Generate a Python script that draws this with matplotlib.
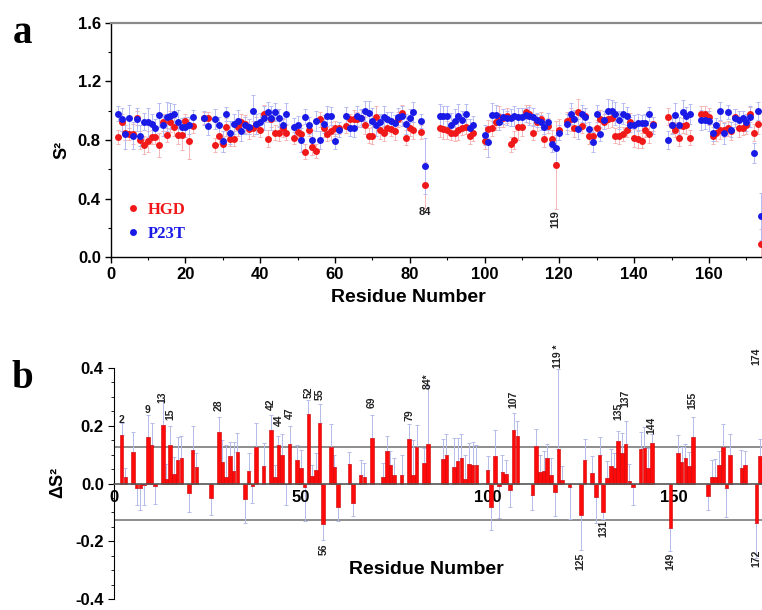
import matplotlib
matplotlib.use("Agg")
import matplotlib.pyplot as plt
from matplotlib.ticker import MultipleLocator

plt.rcParams['font.family'] = ['Liberation Sans', 'DejaVu Sans']

# ---------------- Panel a data ----------------
res_a = [2, 3, 4, 5, 6, 7, 8, 9, 10, 11,
         12, 13, 14, 15, 16, 17, 18, 19, 20, 21,
         22, 25, 26, 28, 29, 30, 31, 32, 33, 34,
         35, 36, 37, 38, 39, 40, 41, 42, 43, 44,
         45, 46, 47, 49, 50, 51, 52, 53, 54, 55,
         56, 57, 58, 59, 60, 61, 63, 64, 65, 66,
         67, 68, 69, 70, 71, 72, 73, 74, 75, 76,
         77, 78, 79, 80, 81, 83, 84, 88, 89, 90,
         91, 92, 93, 94, 95, 96, 97, 100, 101, 102,
         103, 104, 105, 106, 107, 108, 109, 110, 111, 112,
         113, 114, 115, 116, 117, 118, 119, 120, 122, 123,
         124, 125, 126, 127, 128, 129, 130, 131, 132, 133,
         134, 135, 136, 137, 138, 139, 140, 141, 142, 143,
         144, 145, 149, 150, 151, 152, 153, 154, 155, 158,
         159, 160, 161, 162, 163, 164, 165, 166, 167, 168,
         169, 170, 171, 172, 173, 174]

hgd = [.82, .92, .85, .84, .84, .95, .80, .765, .79, .82,
       .82, .765, .92, .835, .925, .89, .835, .835, .93, .79,
       .897, .95, .95, .765, .83, .77, .887, .81, .81, .89,
       .925, .91, .875, .88, .90, .87, .98, .81, .94, .85,
       .845, .88, .85, .815, .855, .84, .72, .87, .755, .725,
       .94, .88, .84, .86, .88, .88, .897, .94, .943, .94,
       .952, .90, .83, .83, .96, .87, .845, .885, .876, .86,
       .94, .982, .815, .88, .865, .855, .493, .88, .874, .87,
       .85, .85, .87, .885, .89, .83, .845, .79, .874, .88,
       .925, .96, .95, .965, .77, .80, .887, .89, .99, .977,
       .85, .92, .94, .81, .897, .806, .63, .87, .93, .94,
       .88, .99, .897, .965, .83, .83, .885, .943, .925, .943,
       .952, .83, .83, .84, .87, .925, .815, .806, .795, .87,
       .84, .91, .96, .90, .87, .817, .897, .90, .817, .98,
       .98, .96, .83, .845, .87, .87, .88, .86, .96, .88,
       .885, .90, .975, .85, .91, .09]

p23t = [.98, .94, .84, .95, .83, .94, .83, .925, .92, .907,
        .88, .97, .90, .96, .965, .975, .925, .89, .89, .90,
        .955, .95, .895, .943, .90, .79, .977, .85, .91, .932,
        .86, .90, .89, .999, .91, .925, .95, .99, .95, .99,
        .95, .90, .98, .89, .905, .80, .96, .90, .80, .93,
        .80, .91, .965, .965, .79, .87, .965, .88, .88, .965,
        .95, .999, .985, .93, .90, .92, .96, .94, .93, .918,
        .96, .965, .91, .953, .99, .93, .623, .965, .965, .965,
        .905, .93, .965, .936, .975, .885, .905, .835, .786, .97,
        .97, .925, .96, .95, .953, .965, .955, .96, .97, .965,
        .955, .936, .92, .89, .925, .77, .743, .85, .91, .98,
        .943, .874, .98, .96, .874, .786, .98, .84, .936, 1.0,
        1.0, .98, .936, .98, .965, .905, .90, .918, .918, .918,
        .977, .90, .80, .90, .97, .90, .99, .965, .977, .936,
        .936, .93, .85, .90, .999, .845, .99, .87, .95, .936,
        .95, .92, .96, .71, .999, .28]

hgd_err = [.05, .06, .05, .04, .07, .05, .06, .06, .07, .05,
           .05, .08, .06, .05, .07, .06, .06, .10, .05, .12,
           .05, .04, .04, .05, .06, .05, .06, .05, .05, .06,
           .05, .06, .07, .05, .06, .05, .06, .06, .05, .05,
           .05, .06, .05, .04, .05, .06, .05, .04, .06, .05,
           .05, .06, .05, .06, .05, .04, .05, .04, .06, .05,
           .05, .06, .05, .06, .07, .06, .05, .04, .05, .06,
           .05, .06, .05, .05, .06, .05, .16, .06, .07, .06,
           .05, .06, .07, .05, .05, .06, .05, .05, .06, .05,
           .06, .07, .06, .05, .05, .06, .09, .06, .05, .06,
           .05, .06, .05, .06, .05, .06, .30, .07, .06, .08,
           .06, .09, .05, .05, .06, .06, .05, .06, .05, .06,
           .06, .05, .06, .05, .05, .06, .06, .06, .05, .05,
           .06, .05, .06, .05, .05, .06, .05, .06, .05, .05,
           .05, .06, .06, .05, .06, .05, .05, .06, .05, .06,
           .05, .06, .05, .06, .07, .10]

p23t_err = [.05, .08, .10, .09, .09, .08, .07, .06, .10, .07,
            .06, .08, .07, .10, .09, .07, .08, .06, .07, .06,
            .05, .05, .06, .07, .06, .07, .05, .08, .07, .07,
            .07, .06, .05, .11, .07, .06, .08, .07, .08, .06,
            .06, .05, .07, .06, .06, .08, .05, .06, .07, .07,
            .06, .06, .07, .06, .05, .05, .06, .05, .06, .07,
            .06, .07, .08, .09, .07, .06, .07, .05, .06, .05,
            .06, .07, .07, .06, .07, .05, .19, .08, .07, .07,
            .08, .08, .08, .06, .07, .06, .06, .07, .10, .08,
            .07, .06, .05, .05, .06, .07, .06, .06, .05, .06,
            .06, .05, .05, .05, .06, .05, .09, .05, .07, .07,
            .06, .07, .06, .06, .05, .07, .06, .05, .06, .08,
            .07, .08, .06, .07, .06, .05, .07, .06, .05, .06,
            .05, .06, .06, .06, .08, .06, .08, .06, .07, .07,
            .06, .07, .06, .05, .06, .07, .05, .05, .06, .06,
            .05, .06, .07, .07, .06, .16]

# ---------------- Panel b data ----------------
res_b = [2, 3, 5, 6, 7, 8, 9, 10, 11, 13,
         14, 15, 16, 17, 18, 20, 21, 22, 26, 28,
         29, 30, 31, 32, 33, 35, 36, 37, 38, 40,
         42, 43, 44, 45, 46, 47, 49, 50, 51, 52,
         53, 54, 55, 56, 58, 59, 60, 63, 64, 66,
         67, 69, 72, 73, 74, 75, 77, 79, 80, 81,
         83, 84, 88, 89, 91, 92, 93, 94, 95, 96,
         97, 100, 101, 102, 103, 104, 105, 106, 107, 108,
         112, 113, 114, 115, 116, 117, 118, 119, 120, 122,
         125, 126, 128, 129, 130, 131, 132, 133, 134, 135,
         136, 137, 138, 139, 141, 142, 143, 144, 149, 151,
         152, 153, 154, 155, 159, 160, 161, 162, 163, 164,
         165, 168, 169, 172, 173, 174]

dS2 = [.168, .024, .11, -.014, -.017, -.005, .16, .133, -.009, .204,
       .017, .133, .033, .083, .088, -.033, .116, .057, -.05, .177,
       .074, .024, .094, .044, .11, -.055, .044, -.009, .125, .06,
       .186, .024, .135, .10, -.003, .138, .083, .055, -.011, .24,
       .025, .046, .21, -.14, .127, .057, -.08, .069, -.066, .031,
       .022, .157, .022, .114, .064, .028, .03, .155, .03, .127,
       .072, .136, .085, .10, .057, .077, .09, .017, .069, .063,
       .063, .046, -.081, .094, -.01, .039, .033, -.022, .185, .166,
       -.041, .13, .039, .044, .088, .028, -.031, .118, .011, -.013,
       -.11, .083, .036, -.046, .10, -.097, .019, .061, .055, .146,
       .105, .136, .008, -.013, .118, .124, .052, .14, -.155, .107,
       .075, .088, .059, .16, -.042, .022, .024, .063, .127, -.017,
       .10, .055, .064, -.138, .094, .19]

dS2_err = [.04, .03, .07, .06, .075, .07, .078, .077, .063, .083,
           .05, .067, .06, .077, .078, .066, .083, .05, .06, .055,
           .075, .11, .05, .10, .065, .083, .06, .06, .085, .08,
           .05, .04, .03, .07, .07, .06, .05, .06, .12, .05,
           .04, .06, .065, .055, .08, .04, .05, .04, .045, .05,
           .05, .08, .05, .05, .05, .06, .07, .05, .12, .075,
           .05, .20, .07, .07, .10, .08, .08, .08, .07, .08,
           .07, .05, .08, .09, .11, .06, .05, .06, .06, .05,
           .05, .06, .06, .07, .05, .06, .08, .28, .05, .11,
           .12, .07, .06, .09, .06, .025, .06, .06, .05, .035,
           .07, .08, .06, .06, .06, .07, .07, .03, .08, .06,
           .05, .05, .05, .07, .05, .06, .06, .05, .08, .10,
           .07, .06, .05, .12, .06, .20]

lab_res = [2, 9, 13, 15, 28, 42, 44, 47, 52, 55, 56, 69, 79, 84, 107,
           119, 125, 131, 135, 137, 144, 149, 155, 172, 174]
lab_text = ['2', '9', '13', '15', '28', '42', '44', '47', '52', '55', '56',
            '69', '79', "84*", '107', '119 *', '125', '131', '135', '137',
            '144', '149', '155', '172', '174']
lab_y = [0.22, 0.255, 0.30, 0.24, 0.27, 0.275, 0.22, 0.243, 0.315, 0.31,
         -0.226, 0.28, 0.238, 0.354, 0.293, 0.44, -0.27, -0.155, 0.249,
         0.294, 0.20, -0.27, 0.287, -0.26, 0.44]

threshold = 0.125

W, H = 762, 610
fig = plt.figure(figsize=(W / 100, H / 100), dpi=100)

# ---------------- Panel a ----------------
axa = fig.add_axes([110.5 / W, 1 - 257.3 / H, 673.2 / W, 234.6 / H])
axa.errorbar(res_a, hgd, yerr=hgd_err, fmt='none', ecolor='#f5b5b5',
             elinewidth=0.7, capsize=1.6, capthick=0.7, zorder=1)
axa.errorbar(res_a, p23t, yerr=p23t_err, fmt='none', ecolor='#b5baf3',
             elinewidth=0.7, capsize=1.6, capthick=0.7, zorder=1)
axa.plot(res_a, hgd, 'o', color='#f01818', ms=5, mec='none', zorder=3,
         label='HGD')
axa.plot(res_a, p23t, 'o', color='#1a1ae6', ms=5, mec='none', zorder=3,
         label='P23T')
axa.set_xlim(0, 180)
axa.set_ylim(0, 1.6)
axa.set_xticks(range(0, 161, 20))
axa.xaxis.set_minor_locator(MultipleLocator(10))
axa.yaxis.set_major_locator(MultipleLocator(0.4))
axa.yaxis.set_minor_locator(MultipleLocator(0.2))
axa.yaxis.set_major_formatter(matplotlib.ticker.FormatStrFormatter('%.1f'))
axa.tick_params(which='major', direction='out', length=4, width=1,
                labelsize=12, pad=3)
axa.tick_params(which='minor', direction='out', length=2, width=0.8)
for lab in axa.get_xticklabels() + axa.get_yticklabels():
    lab.set_fontweight('bold')
axa.spines['top'].set_color('#8a8a8a')
axa.spines['top'].set_linewidth(1.6)
axa.spines['left'].set_linewidth(1.0)
axa.spines['bottom'].set_linewidth(1.0)
leg = axa.legend(loc='upper left', bbox_to_anchor=(0.021, 0.235),
                 frameon=False, handlelength=1.0, handletextpad=0.4,
                 borderpad=0, borderaxespad=0, labelspacing=0.45,
                 labelcolor='markerfacecolor',
                 prop={'family': 'Liberation Serif', 'weight': 'bold',
                       'size': 12})
axa.text(84, 0.31, '84', ha='center', va='center', fontsize=8,
         fontweight='bold', color='#222222')
axa.text(119, 0.26, '119', ha='center', va='center', fontsize=8,
         fontweight='bold', rotation=90, color='#222222')

fig.text(62 / W, 1 - 150 / H, 'S²', rotation=90, ha='center', va='center',
         fontsize=13, fontweight='bold')
fig.text(408 / W, 1 - 298 / H, 'Residue Number', ha='center', va='center',
         fontsize=14, fontweight='bold')
fig.text(22 / W, 1 - 43 / H, 'a', ha='center', va='baseline', fontsize=28,
         fontweight='bold', family='Liberation Serif')

# ---------------- Panel b ----------------
axb = fig.add_axes([114.2 / W, 1 - 599 / H, 672 / W, 231 / H])
lower = [e if v < 0 else 0 for v, e in zip(dS2, dS2_err)]
upper = [e if v >= 0 else 0 for v, e in zip(dS2, dS2_err)]
axb.errorbar(res_b, dS2, yerr=[lower, upper], fmt='none', ecolor='#b3bbe8',
             elinewidth=0.7, capsize=1.6, capthick=0.7, zorder=1)
axb.bar(res_b, dS2, width=0.95, color='#ff0a0a', edgecolor='#d00000',
        linewidth=0.4, zorder=2)
axb.axhline(threshold, color='#7a7a7a', lw=1.2, zorder=0)
axb.axhline(-threshold, color='#7a7a7a', lw=1.2, zorder=0)
axb.set_xlim(0, 180)
axb.set_ylim(-0.4, 0.4)
axb.spines['top'].set_visible(False)
axb.spines['right'].set_visible(False)
axb.spines['bottom'].set_position(('data', 0))
axb.spines['bottom'].set_color('#555555')
axb.spines['bottom'].set_linewidth(1.2)
axb.spines['bottom'].set_zorder(3)
axb.set_xticks([0, 50, 100, 150])
axb.yaxis.set_major_locator(MultipleLocator(0.2))
axb.yaxis.set_minor_locator(MultipleLocator(0.05))
axb.yaxis.set_major_formatter(matplotlib.ticker.FormatStrFormatter('%.1f'))
axb.tick_params(axis='x', length=0, pad=5, labelsize=12)
axb.tick_params(axis='y', which='major', direction='out', length=4,
                labelsize=12)
axb.tick_params(axis='y', which='minor', direction='out', length=2)
for lab in axb.get_xticklabels() + axb.get_yticklabels():
    lab.set_fontweight('bold')
for r, t, y in zip(lab_res, lab_text, lab_y):
    rot = 0 if len(t) == 1 else 90
    # keep the edge label fully inside the figure
    dx = -5 if r == max(lab_res) else 0
    axb.annotate(t, xy=(r, y), xytext=(dx, 0), textcoords='offset points',
                 ha='center', va='center', rotation=rot, fontsize=7.5,
                 fontweight='bold', color='#222222', annotation_clip=False)

fig.text(58 / W, 1 - 482 / H, 'ΔS²', rotation=90, ha='center', va='center',
         fontsize=13, fontweight='bold')
fig.text(426 / W, 1 - 570 / H, 'Residue Number', ha='center', va='center',
         fontsize=14, fontweight='bold')
fig.text(22 / W, 1 - 388 / H, 'b', ha='center', va='baseline', fontsize=28,
         fontweight='bold', family='Liberation Serif')

fig.savefig('out.png', dpi=100)
